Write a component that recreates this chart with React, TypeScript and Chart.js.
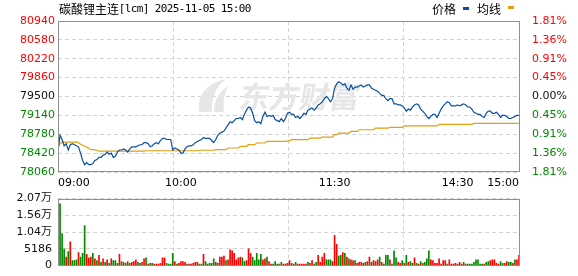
import React, { useEffect, useRef } from "react";
import { Chart, registerables } from "chart.js";

Chart.register(...registerables);

// ---------- data ----------
const titleName = "碳酸锂主连";
const titleRest = "[lcm] 2025-11-05 15:00";
const legendPrice = "价格";
const legendAvg = "均线";
const watermarkText = "东方财富";

const prevClose = 79500;
const totalMinutes = 225;
const priceTicks = [78060, 78420, 78780, 79140, 79500, 79860, 80220, 80580, 80940];
const pctTickLabels = ["1.81%", "1.36%", "0.91%", "0.45%", "0.00%", "0.45%", "0.91%", "1.36%", "1.81%"];
const volTicks = [0, 5186, 10372, 15558, 20744];
const volTickLabels = ["0", "5186", "1.04万", "1.56万", "2.07万"];
const timeLabels = ["09:00", "10:00", "11:30", "14:30", "15:00"];
const timeLabelMinutes = [0, 60, 135, 195, 225];
const gridMinutes = [0, 56.25, 112.5, 168.75, 225];

// price per minute (index 0 = 09:00 open, 225 = close)
const priceValues = [
  78460, 78760, 78680, 78560, 78600, 78480, 78580, 78600, 78580, 78560,
  78540, 78420, 78280, 78200, 78240, 78200, 78200, 78220, 78280, 78300,
  78340, 78340, 78380, 78400, 78440, 78400, 78420, 78340, 78360, 78440,
  78480, 78480, 78500, 78480, 78440, 78500, 78540, 78540, 78540, 78560,
  78580, 78580, 78620, 78620, 78600, 78540, 78560, 78600, 78620, 78600,
  78660, 78700, 78700, 78680, 78680, 78680, 78480, 78520, 78500, 78480,
  78420, 78420, 78500, 78540, 78560, 78560, 78580, 78620, 78640, 78660,
  78680, 78720, 78700, 78700, 78700, 78660, 78620, 78680, 78760, 78800,
  78820, 78840, 78900, 78960, 79020, 79000, 79040, 79080, 79080, 79100,
  79060, 79160, 79240, 79300, 79280, 79180, 79040, 79000, 79020, 78980,
  79120, 79200, 79120, 79140, 79120, 79140, 79060, 79040, 79020, 79080,
  79020, 79080, 79180, 79200, 79160, 79160, 79100, 79120, 79080, 79120,
  79180, 79160, 79240, 79260, 79280, 79240, 79280, 79340, 79360, 79400,
  79460, 79500, 79460, 79400, 79460, 79660, 79740, 79780, 79760, 79720,
  79740, 79660, 79620, 79720, 79640, 79680, 79680, 79700, 79720, 79680,
  79700, 79720, 79720, 79660, 79640, 79620, 79600, 79560, 79520, 79520,
  79460, 79420, 79460, 79460, 79360, 79360, 79340, 79340, 79320, 79280,
  79220, 79260, 79240, 79300, 79340, 79360, 79340, 79260, 79220, 79180,
  79120, 79080, 79120, 79160, 79160, 79100, 79180, 79260, 79320, 79360,
  79400, 79380, 79320, 79320, 79320, 79340, 79320, 79340, 79360, 79340,
  79300, 79300, 79260, 79200, 79180, 79160, 79160, 79120, 79100, 79180,
  79220, 79220, 79180, 79180, 79200, 79160, 79100, 79140, 79140, 79120,
  79080, 79080, 79100, 79120, 79140, 79140,
];

// average price line per minute
const avgValues = [
  78540, 78600, 78630, 78630, 78630, 78630, 78630, 78630, 78630, 78630,
  78620, 78590, 78570, 78550, 78535, 78515, 78485, 78485, 78485, 78470,
  78460, 78460, 78460, 78460, 78460, 78460, 78460, 78460, 78460, 78460,
  78460, 78460, 78460, 78460, 78460, 78460, 78460, 78460, 78460, 78460,
  78460, 78460, 78460, 78465, 78465, 78465, 78465, 78465, 78465, 78465,
  78465, 78465, 78465, 78465, 78465, 78465, 78465, 78465, 78465, 78465,
  78465, 78465, 78465, 78465, 78465, 78465, 78465, 78465, 78465, 78475,
  78475, 78475, 78475, 78475, 78475, 78475, 78475, 78486, 78486, 78486,
  78486, 78486, 78486, 78518, 78518, 78518, 78518, 78518, 78518, 78550,
  78550, 78550, 78550, 78581, 78581, 78581, 78581, 78613, 78613, 78613,
  78613, 78613, 78645, 78645, 78645, 78645, 78645, 78645, 78645, 78645,
  78645, 78645, 78655, 78655, 78676, 78676, 78676, 78676, 78676, 78676,
  78676, 78676, 78676, 78708, 78708, 78708, 78708, 78708, 78708, 78727,
  78727, 78727, 78727, 78727, 78727, 78771, 78771, 78803, 78803, 78803,
  78803, 78803, 78803, 78834, 78834, 78834, 78834, 78866, 78866, 78866,
  78866, 78866, 78866, 78866, 78866, 78898, 78898, 78898, 78898, 78898,
  78898, 78898, 78911, 78911, 78911, 78911, 78911, 78911, 78911, 78940,
  78940, 78940, 78940, 78940, 78940, 78940, 78940, 78940, 78940, 78940,
  78940, 78940, 78940, 78940, 78940, 78940, 78969, 78969, 78969, 78969,
  78969, 78969, 78969, 78969, 78969, 78969, 78969, 78969, 78969, 78969,
  78969, 78969, 78969, 78988, 78988, 78988, 78988, 78988, 78988, 78988,
  78988, 78988, 78988, 78988, 78988, 78988, 78988, 78988, 78988, 78988,
  78988, 78988, 78988, 78988, 78988, 78988,
];

// volume per minute (minute 1 .. 225)
const volumeValues = [
  19158, 9858, 5115, 2604, 4278, 7347, 1488, 1488, 1767, 3999,
  2604, 3720, 12369, 3441, 2325, 2604, 3720, 2046, 1488, 3162,
  930, 2046, 930, 1767, 651, 2046, 1488, 1488, 651, 3441,
  1209, 930, 651, 1209, 651, 930, 1209, 1767, 930, 651,
  930, 2046, 2325, 372, 651, 651, 372, 372, 372, 651,
  2325, 2325, 651, 372, 372, 3720, 1209, 372, 651, 1209,
  1209, 930, 372, 372, 372, 651, 930, 930, 372, 372,
  3441, 1209, 372, 651, 651, 2046, 930, 651, 2604, 2604,
  2883, 1488, 1767, 4836, 4557, 3720, 1767, 2325, 2604, 2325,
  1209, 1488, 5115, 3720, 2604, 1488, 3720, 1767, 3441, 1767,
  2046, 2604, 1209, 372, 372, 1209, 372, 372, 930, 372,
  372, 651, 1488, 651, 372, 930, 372, 372, 372, 372,
  372, 930, 651, 1488, 372, 930, 3162, 930, 2604, 3720,
  1767, 1767, 1767, 1209, 9300, 6510, 2883, 3162, 3999, 3720,
  2604, 2046, 1767, 1488, 1488, 651, 930, 930, 651, 930,
  1209, 2604, 930, 1488, 1209, 1767, 2604, 930, 372, 3162,
  3162, 1767, 372, 4557, 2325, 930, 651, 1488, 651, 3162,
  930, 1209, 651, 2325, 651, 372, 1209, 651, 930, 2046,
  4557, 1767, 1488, 651, 651, 2046, 372, 1488, 1488, 372,
  1767, 372, 372, 651, 372, 930, 372, 930, 372, 372,
  372, 372, 930, 1767, 1767, 372, 372, 372, 930, 1209,
  1488, 1767, 1767, 651, 372, 1209, 651, 651, 1209, 930,
  930, 651, 1767, 1767, 3162,
];

// r = up (red), g = down (green)
const volumeSides = (
  "gggrgrgggr" + "gggrrrgrgr" + "grgrgrgggr" + "grggrrrrgg" + "rrgrggrrrr" +
  "rrggggrgrr" + "rrgrrrrrgg" + "rgggggrgrr" + "rgrrrrrrrg" + "grrrgggggr" +
  "rgrrggrggr" + "rrrgrgrrrr" + "rgrrggrrrr" + "gggrrrggrg" + "rgrrgrrrrg" +
  "rrgrrrgrgg" + "grgggrrgrg" + "rggrgrgrgg" + "grrrrrrrrg" + "rrrrgrrgrg" +
  "gggggggrgg" + "rrrrrggrrg" + "grgrr"
).split("");

// ---------- styles ----------
const RED = "#ff0000";
const GREEN = "#008a00";
const DARK = "#111111";
const BLUE = "#0a4fa0";
const GOLD = "#e0a010";
const GRID = "#d2d2d2";
const FRAME = "#909090";
const AXIS_FONT = { family: "'DejaVu Sans', 'Noto Sans CJK SC', sans-serif", size: 11 };

const tickColor = (v: number) => (v > prevClose ? RED : v < prevClose ? GREEN : DARK);

const framePlugin = {
  id: "frame",
  afterDraw(chart: any) {
    const { ctx, chartArea: a } = chart;
    ctx.save();
    ctx.strokeStyle = FRAME;
    ctx.lineWidth = 1;
    ctx.setLineDash([]);
    ctx.strokeRect(Math.round(a.left) + 0.5, Math.round(a.top) + 0.5, Math.round(a.right - a.left), Math.round(a.bottom - a.top) - 1);
    ctx.restore();
  },
};

const watermarkPlugin = {
  id: "watermark",
  beforeDatasetsDraw(chart: any) {
    const { ctx } = chart;
    ctx.save();
    ctx.fillStyle = "#e6e6e9";
    // logo
    ctx.beginPath();
    ctx.moveTo(199, 112);
    ctx.quadraticCurveTo(196, 86, 226, 79);
    ctx.quadraticCurveTo(211, 90, 212, 112);
    ctx.closePath();
    ctx.fill();
    ctx.beginPath();
    ctx.moveTo(214, 112);
    ctx.quadraticCurveTo(214, 95, 228, 86);
    ctx.quadraticCurveTo(222, 98, 224, 112);
    ctx.closePath();
    ctx.fill();
    // text
    ctx.font = "bold 30px 'Noto Sans CJK SC'";
    ctx.textBaseline = "middle";
    ctx.textAlign = "left";
    ctx.translate(240, 97);
    ctx.transform(1, 0, -0.18, 1, 0, 0);
    ctx.fillText(watermarkText, 0, 0);
    ctx.restore();
  },
};

const headerPlugin = {
  id: "header",
  afterDraw(chart: any) {
    const { ctx } = chart;
    const xs = chart.scales.x;
    ctx.save();
    ctx.fillStyle = "#000";
    ctx.textBaseline = "middle";
    ctx.textAlign = "left";
    ctx.font = "12px 'Noto Sans CJK SC'";
    ctx.fillText(titleName, 59, 9.5);
    let x = 59 + ctx.measureText(titleName).width;
    ctx.font = "11px 'DejaVu Sans Mono'";
    ctx.textAlign = "center";
    for (const ch of titleRest) {
      ctx.fillText(ch, x + 3, 9.5);
      x += 6;
    }
    // legend
    ctx.textAlign = "left";
    ctx.font = "12px 'Noto Sans CJK SC'";
    ctx.fillText(legendPrice, 432, 9.5);
    ctx.fillText(legendAvg, 477, 9.5);
    ctx.fillStyle = BLUE;
    ctx.fillRect(463, 7, 6, 3);
    ctx.fillStyle = GOLD;
    ctx.fillRect(508, 6, 6, 3);
    // time labels
    ctx.fillStyle = "#000";
    ctx.font = "11px 'DejaVu Sans'";
    ctx.textBaseline = "alphabetic";
    timeLabels.forEach((t, k) => {
      const px = xs.getPixelForValue(timeLabelMinutes[k]);
      ctx.textAlign = k === 0 ? "left" : k === timeLabels.length - 1 ? "right" : "center";
      ctx.fillText(t, px, 185.5);
    });
    ctx.restore();
  },
};

const quarterTicks = (s: any) => {
  s.ticks = gridMinutes.map((v) => ({ value: v }));
};

export default function App() {
  const priceRef = useRef<HTMLCanvasElement>(null);
  const volRef = useRef<HTMLCanvasElement>(null);

  useEffect(() => {
    const priceChart = new Chart(priceRef.current as HTMLCanvasElement, {
      type: "line",
      data: {
        datasets: [
          {
            data: priceValues.map((v, i) => ({ x: i, y: v })),
            borderColor: BLUE,
            borderWidth: 1.2,
            pointRadius: 0,
            tension: 0,
          },
          {
            data: avgValues.map((v, i) => ({ x: i, y: v })),
            borderColor: GOLD,
            borderWidth: 1.2,
            pointRadius: 0,
            tension: 0,
          },
        ],
      },
      options: {
        animation: false,
        responsive: false,
        devicePixelRatio: 1,
        layout: { padding: { top: 21, left: 0, right: 0, bottom: 0 } },
        plugins: { legend: { display: false }, tooltip: { enabled: false } },
        scales: {
          x: {
            type: "linear",
            min: 0,
            max: totalMinutes,
            afterBuildTicks: quarterTicks,
            ticks: { display: false },
            grid: { color: GRID, drawTicks: false },
            border: { display: false, dash: [4, 3] },
            afterFit: (s: any) => {
              s.height = 18;
            },
          },
          y: {
            position: "left",
            min: priceTicks[0],
            max: priceTicks[priceTicks.length - 1],
            afterBuildTicks: (s: any) => {
              s.ticks = priceTicks.map((v) => ({ value: v }));
            },
            ticks: {
              font: AXIS_FONT,
              padding: 3,
              color: (c: any) => tickColor(c.tick.value),
              callback: (v: any) => String(v),
            },
            grid: { color: GRID, drawTicks: false },
            border: { display: false, dash: [4, 3] },
            afterFit: (s: any) => {
              s.width = 58;
            },
          },
          y1: {
            position: "right",
            min: priceTicks[0],
            max: priceTicks[priceTicks.length - 1],
            afterBuildTicks: (s: any) => {
              s.ticks = priceTicks.map((v) => ({ value: v }));
            },
            ticks: {
              font: AXIS_FONT,
              padding: 5,
              color: (c: any) => tickColor(c.tick.value),
              callback: (_v: any, i: number) => pctTickLabels[i],
            },
            grid: { display: false },
            border: { display: false },
            afterFit: (s: any) => {
              s.width = 59;
            },
          },
        },
      } as any,
      plugins: [watermarkPlugin, framePlugin, headerPlugin],
    });

    const volChart = new Chart(volRef.current as HTMLCanvasElement, {
      type: "bar",
      data: {
        datasets: [
          {
            data: volumeValues.map((v, i) => ({ x: i + 1, y: v })),
            backgroundColor: volumeSides.map((s) => (s === "r" ? RED : GREEN)),
            borderWidth: 0,
            barThickness: 1,
          },
        ],
      },
      options: {
        animation: false,
        responsive: false,
        devicePixelRatio: 1,
        layout: { padding: { top: 10, left: 0, right: 59, bottom: 0 } },
        plugins: { legend: { display: false }, tooltip: { enabled: false } },
        scales: {
          x: {
            type: "linear",
            min: 0,
            max: totalMinutes,
            offset: false,
            afterBuildTicks: quarterTicks,
            ticks: { display: false },
            grid: { color: GRID, drawTicks: false, offset: false },
            border: { display: false, dash: [4, 3] },
            afterFit: (s: any) => {
              s.height = 8;
            },
          },
          y: {
            position: "left",
            min: 0,
            max: volTicks[volTicks.length - 1],
            afterBuildTicks: (s: any) => {
              s.ticks = volTicks.map((v) => ({ value: v }));
            },
            ticks: {
              font: AXIS_FONT,
              padding: 6,
              color: DARK,
              callback: (_v: any, i: number) => volTickLabels[i],
            },
            grid: { color: GRID, drawTicks: false },
            border: { display: false, dash: [4, 3] },
            afterFit: (s: any) => {
              s.width = 58;
            },
          },
        },
      } as any,
      plugins: [framePlugin],
    });

    return () => {
      priceChart.destroy();
      volChart.destroy();
    };
  }, []);

  return (
    <div style={{ position: "relative", width: 578, height: 276, overflow: "hidden", background: "#fff" }}>
      <style>{"body{margin:0;}"}</style>
      <canvas ref={priceRef} width={578} height={190} style={{ position: "absolute", left: 0, top: 0 }} />
      <canvas ref={volRef} width={578} height={92} style={{ position: "absolute", left: 0, top: 186 }} />
    </div>
  );
}
